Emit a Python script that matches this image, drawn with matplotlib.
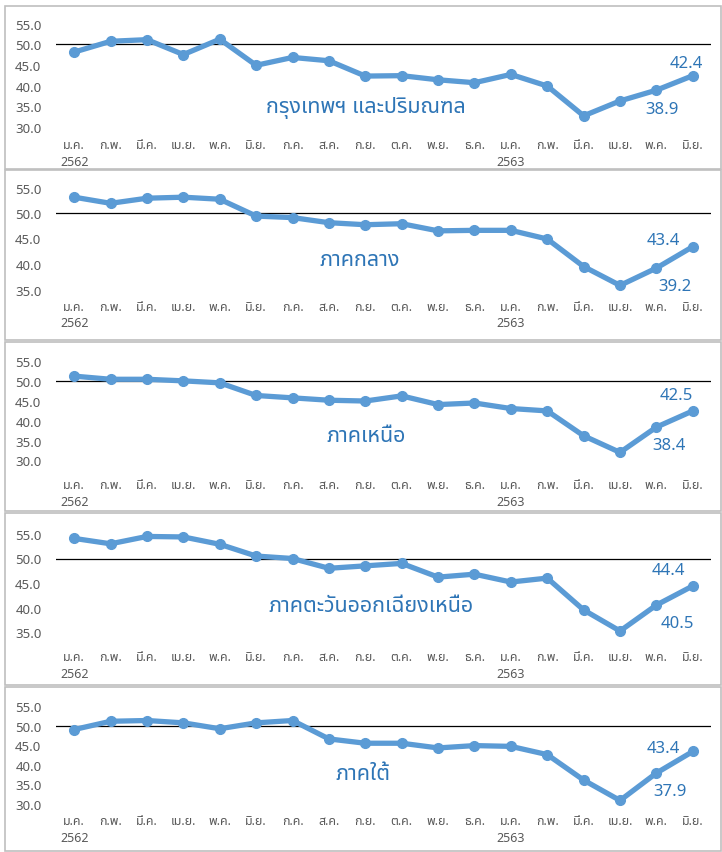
import matplotlib
matplotlib.use('Agg')
from matplotlib import pyplot as plt
from matplotlib import font_manager
from matplotlib.ft2font import FT2Font
from matplotlib.patches import Rectangle

months = ['ม.ค.', 'ก.พ.', 'มี.ค.', 'เม.ย.', 'พ.ค.', 'มิ.ย.', 'ก.ค.', 'ส.ค.', 'ก.ย.',
          'ต.ค.', 'พ.ย.', 'ธ.ค.', 'ม.ค.', 'ก.พ.', 'มี.ค.', 'เม.ย.', 'พ.ค.', 'มิ.ย.']
years = {0: '2562', 12: '2563'}

regions = ['กรุงเทพฯ และปริมณฑล', 'ภาคกลาง', 'ภาคเหนือ',
           'ภาคตะวันออกเฉียงเหนือ', 'ภาคใต้']
bangkok = [48.1, 50.7, 51.1, 47.5, 51.2, 44.9, 46.8, 46.0, 42.3,
           42.4, 41.4, 40.7, 42.7, 39.9, 32.7, 36.3, 38.9, 42.4]
central = [53.1, 51.9, 52.9, 53.1, 52.7, 49.4, 49.1, 48.1, 47.7,
           47.9, 46.5, 46.6, 46.6, 44.9, 39.5, 35.8, 39.2, 43.4]
north = [51.3, 50.5, 50.5, 50.1, 49.6, 46.4, 45.8, 45.2, 45.0,
         46.3, 44.1, 44.5, 43.1, 42.5, 36.2, 32.0, 38.4, 42.5]
northeast = [54.1, 53.0, 54.5, 54.4, 52.9, 50.5, 50.0, 48.0, 48.5,
             49.0, 46.2, 46.8, 45.2, 46.0, 39.5, 35.2, 40.5, 44.4]
south = [49.0, 51.1, 51.3, 50.7, 49.2, 50.7, 51.3, 46.6, 45.5,
         45.5, 44.3, 44.9, 44.7, 42.6, 36.1, 30.9, 37.9, 43.4]
series = [bangkok, central, north, northeast, south]
y_min = [30, 35, 30, 35, 30]
y_ticks = [[30, 35, 40, 45, 50, 55], [35, 40, 45, 50, 55],
           [30, 35, 40, 45, 50, 55], [35, 40, 45, 50, 55],
           [30, 35, 40, 45, 50, 55]]


# find an installed font that has Thai letters
def thai_font():
    names = []
    for f in font_manager.fontManager.ttflist:
        try:
            if ord('ก') in FT2Font(f.fname).get_charmap():
                names.append(f.name)
        except Exception:
            pass
    for pref in ['Leelawadee UI', 'Tahoma', 'Noto Sans Thai', 'Noto Sans Thai UI',
                 'Loma', 'Garuda', 'Sarabun', 'Kinnari', 'Norasi']:
        if pref in names:
            return pref
    return names[0] if names else 'DejaVu Sans'


fam = [thai_font(), 'DejaVu Sans']
plt.rcParams['font.family'] = fam

W, H = 722, 853
fig = plt.figure(figsize=(W / 100, H / 100), dpi=100)

# panel layout in pixels
boxes = [(7, 170), (171, 341), (343, 512), (514, 686), (688, 852)]
axes_px = [(24.5, 128), (188.5, 290.5), (362.5, 461.3), (535, 633), (707, 805)]
xpad = [8.0, 7.5, 13.0, 13.0, 7.5]
title_px = [(366, 108), (360, 261), (366, 437), (371, 606), (363, 775)]
# (dx, dy) offsets in pixels for the last two value labels
lab_off = [[(6, 13), (-6, -19)], [(29, 7), (-19, -18)], [(16, 16), (-13, -18)],
           [(24, 16), (-21, -18)], [(29, 3), (-14, -18)]]

line_c = '#5B9BD5'
text_c = '#2E75B6'
left, right = 56, 711

for i in range(5):
    t, b = boxes[i]
    fig.patches.append(Rectangle((5 / W, 1 - b / H), 716 / W, (b - t) / H,
                                 transform=fig.transFigure, fill=False,
                                 edgecolor='#BFBFBF', lw=1.2))
    at, ab = axes_px[i]
    ax = fig.add_axes([left / W, 1 - ab / H, (right - left) / W, (ab - at) / H])
    vals = series[i]
    x = list(range(len(months)))
    ax.axhline(50, color='black', lw=0.9, zorder=1)
    ax.plot(x, vals, color=line_c, lw=3.8, marker='o', ms=7,
            solid_joinstyle='round', solid_capstyle='round', zorder=2,
            clip_on=False)
    ax.set_xlim(-0.5, len(months) - 0.5)
    ax.set_ylim(y_min[i], 55)
    ax.set_yticks(y_ticks[i])
    ax.set_yticklabels([f'{v:.1f}' for v in y_ticks[i]])
    ax.set_xticks(x)
    ax.set_xticklabels([m + ('\n' + years[k] if k in years else '')
                        for k, m in enumerate(months)], linespacing=1.35)
    ax.tick_params(axis='y', length=0, pad=10.5, labelsize=9.5, labelcolor='#595959')
    ax.tick_params(axis='x', length=0, pad=xpad[i], labelsize=9, labelcolor='#595959')
    for s in ax.spines.values():
        s.set_visible(False)
    ax.patch.set_alpha(0)
    for j, k in enumerate([17, 16]):
        dx, dy = lab_off[i][j]
        ax.annotate(f'{vals[k]:.1f}', (k, vals[k]), xytext=(-dx * 0.72, dy * 0.72),
                    textcoords='offset points', ha='center', va='center',
                    color=text_c, fontsize=12)
    tx, ty = title_px[i]
    fig.text(tx / W, 1 - ty / H, regions[i], ha='center', va='center',
             color=text_c, fontsize=15.5)

fig.savefig('out.png', dpi=100)
